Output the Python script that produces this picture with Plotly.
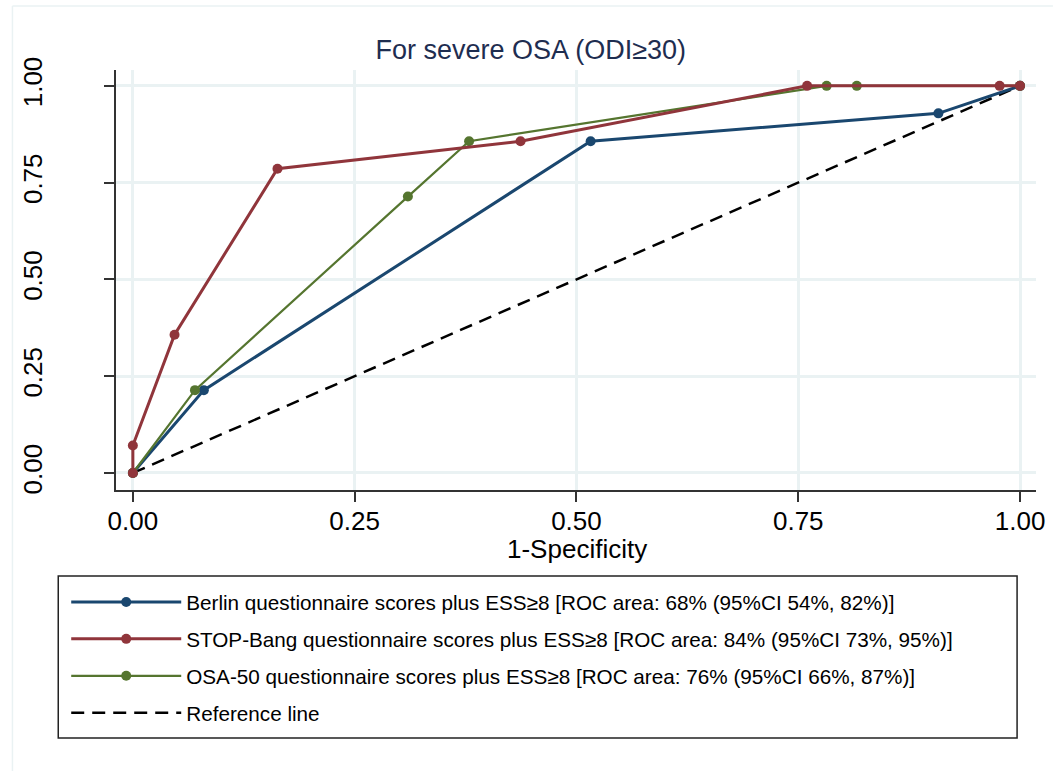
import plotly.graph_objects as go

# Data (1-Specificity, Sensitivity)
berlin_x = [0.0, 0.080, 0.516, 0.908, 1.0]
berlin_y = [0.0, 0.214, 0.857, 0.929, 1.0]

stop_x = [0.0, 0.0, 0.047, 0.163, 0.437, 0.760, 0.977, 1.0]
stop_y = [0.0, 0.071, 0.357, 0.786, 0.857, 1.0, 1.0, 1.0]

osa_x = [0.0, 0.070, 0.310, 0.379, 0.782, 0.816, 1.0]
osa_y = [0.0, 0.214, 0.714, 0.857, 1.0, 1.0, 1.0]

ref_x = [0.0, 1.0]
ref_y = [0.0, 1.0]

names = [
    "Berlin questionnaire scores plus ESS≥8 [ROC area: 68% (95%CI 54%, 82%)]",
    "STOP-Bang questionnaire scores plus ESS≥8 [ROC area: 84% (95%CI 73%, 95%)]",
    "OSA-50 questionnaire scores plus ESS≥8 [ROC area: 76% (95%CI 66%, 87%)]",
    "Reference line",
]
tick_vals = [0, 0.25, 0.5, 0.75, 1.0]
tick_text = ["0.00", "0.25", "0.50", "0.75", "1.00"]
x_title = "1-Specificity"
chart_title = "For severe OSA (ODI≥30)"

C_BERLIN = "#1a476f"
C_STOP = "#90353b"
C_OSA = "#55752f"

fig = go.Figure()
fig.add_trace(go.Scatter(x=ref_x, y=ref_y, mode="lines", name=names[3],
                         line=dict(color="black", width=2.5, dash="13px,8px"),
                         legendrank=4, legendgroup="d"))
fig.add_trace(go.Scatter(x=berlin_x, y=berlin_y, mode="lines+markers", name=names[0],
                         line=dict(color=C_BERLIN, width=3), marker=dict(size=10, color=C_BERLIN),
                         legendrank=1, legendgroup="a"))
fig.add_trace(go.Scatter(x=osa_x, y=osa_y, mode="lines+markers", name=names[2],
                         line=dict(color=C_OSA, width=2.2), marker=dict(size=10, color=C_OSA),
                         legendrank=3, legendgroup="c"))
fig.add_trace(go.Scatter(x=stop_x, y=stop_y, mode="lines+markers", name=names[1],
                         line=dict(color=C_STOP, width=3), marker=dict(size=10, color=C_STOP),
                         legendrank=2, legendgroup="b"))

W, H = 1057, 771
L, R, T, B = 116, 17, 70, 281
pw, ph = W - L - R, H - T - B

def px_x(p):
    return (p - L) / pw

def px_y(p):
    return (H - B - p) / ph

grid = "#eaf2f3"
fig.update_layout(
    width=W, height=H,
    margin=dict(l=L, r=R, t=T, b=B),
    paper_bgcolor="white", plot_bgcolor="white",
    font=dict(family="Liberation Sans, Arial", color="black"),
    title=dict(text=chart_title, x=px_x(580), xanchor="center",
               y=1 - 50 / H, yanchor="middle",
               font=dict(size=27, color="#1e2d50")),
    xaxis=dict(range=[-0.019, 1.018], tickvals=tick_vals, ticktext=tick_text,
               showgrid=True, gridcolor=grid, gridwidth=2.5, zeroline=False,
               showline=True, linecolor="#333", linewidth=1.5,
               ticks="outside", ticklen=10, tickcolor="#333", tickwidth=1.5,
               tickfont=dict(size=26), ticklabelstandoff=-3),
    yaxis=dict(range=[-0.044, 1.041], tickvals=tick_vals, ticktext=tick_text,
               showgrid=True, gridcolor=grid, gridwidth=2.5, zeroline=False,
               showline=True, linecolor="#333", linewidth=1.5,
               ticks="outside", ticklen=10, tickcolor="#333", tickwidth=1.5,
               tickangle=-90, tickfont=dict(size=26), ticklabelstandoff=52),
    legend=dict(x=px_x(66), xanchor="left", y=px_y(582), yanchor="top",
                font=dict(size=20.7), itemwidth=110, traceorder="grouped",
                tracegroupgap=7, bgcolor="rgba(0,0,0,0)", borderwidth=0),
    showlegend=True,
    annotations=[
        dict(text=x_title, xref="paper", yref="paper", x=px_x(579), y=px_y(549),
             xanchor="center", yanchor="middle", showarrow=False,
             font=dict(size=26, color="black")),
    ],
    shapes=[
        dict(type="rect", xref="paper", yref="paper",
             x0=px_x(58), x1=px_x(1021), y0=px_y(738), y1=px_y(576),
             line=dict(color="#222", width=1.5), fillcolor="rgba(0,0,0,0)"),
        dict(type="line", xref="paper", yref="paper",
             x0=px_x(12), x1=px_x(12), y0=px_y(6), y1=px_y(771),
             line=dict(color=grid, width=1.5)),
        dict(type="line", xref="paper", yref="paper",
             x0=px_x(12), x1=px_x(1057), y0=px_y(6), y1=px_y(6),
             line=dict(color=grid, width=1.5)),
    ],
)

fig.write_html("out.html", config={"displayModeBar": False},
               post_script="document.body.style.margin='0';document.body.style.overflow='hidden';")
